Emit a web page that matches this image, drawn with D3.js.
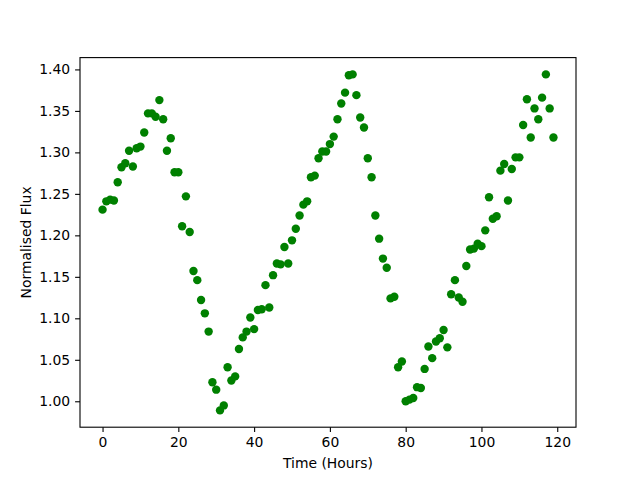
<!DOCTYPE html>
<html><head><meta charset="utf-8">
<script src="https://cdn.jsdelivr.net/npm/d3@7"></script>
<style>body{margin:0;background:#fff}svg{display:block}text{font-family:"DejaVu Sans",sans-serif}</style>
</head><body>
<script>
const hours = d3.range(0, 120);
const flux = [
1.231,1.241,1.243,1.242,1.264,1.282,1.287,1.302,1.283,1.305,
1.307,1.324,1.347,1.347,1.343,1.363,1.340,1.302,1.317,1.276,
1.276,1.211,1.247,1.204,1.157,1.146,1.122,1.106,1.084,1.023,
1.014,0.989,0.995,1.041,1.025,1.030,1.063,1.077,1.084,1.101,
1.087,1.110,1.111,1.140,1.113,1.152,1.166,1.165,1.186,1.166,
1.194,1.208,1.224,1.237,1.241,1.270,1.272,1.293,1.301,1.301,
1.310,1.319,1.340,1.359,1.372,1.393,1.394,1.369,1.342,1.330,
1.293,1.270,1.224,1.196,1.172,1.161,1.124,1.126,1.041,1.048,
1.000,1.002,1.004,1.017,1.016,1.039,1.066,1.052,1.072,1.076,
1.086,1.065,1.129,1.146,1.125,1.120,1.163,1.183,1.184,1.190,
1.187,1.206,1.246,1.220,1.223,1.278,1.286,1.242,1.280,1.294,
1.294,1.333,1.364,1.318,1.353,1.340,1.366,1.394,1.353,1.318];
const xTicks = [0,20,40,60,80,100,120];
const yTicks = [1.00,1.05,1.10,1.15,1.20,1.25,1.30,1.35,1.40];
const xLabel = "Time (Hours)", yLabel = "Normalised Flux";

const W=640,H=480, L=80,R=576,T=57.6,B=427.2;
const svg = d3.select("body").append("svg").attr("width",W).attr("height",H);
const xmin=d3.min(hours), xmax=d3.max(hours), xm=(xmax-xmin)*0.05;
const ymin=d3.min(flux), ymax=d3.max(flux), ym=(ymax-ymin)*0.05;
const x = d3.scaleLinear().domain([xmin-xm,xmax+xm]).range([L,R]);
const y = d3.scaleLinear().domain([ymin-ym,ymax+ym]).range([B,T]);

svg.append("g").selectAll("circle").data(hours).join("circle")
  .attr("cx",(d)=>x(d)).attr("cy",(d,i)=>y(flux[i])).attr("r",4.2).attr("fill","#008000");

const xa = svg.append("g").attr("transform",`translate(0,${B})`)
  .call(d3.axisBottom(x).tickValues(xTicks).tickSize(4.9).tickPadding(4.9).tickFormat(d3.format("d")));
const ya = svg.append("g").attr("transform",`translate(${L},0)`)
  .call(d3.axisLeft(y).tickValues(yTicks).tickSize(4.9).tickPadding(4.9).tickFormat(d3.format(".2f")));
[xa,ya].forEach(a=>{a.select(".domain").remove();a.selectAll("line").attr("stroke","#000").attr("stroke-width",1.1);
  a.selectAll("text").attr("font-size","13.9px").attr("font-family","DejaVu Sans").attr("fill","#000");});
svg.append("rect").attr("x",L).attr("y",T).attr("width",R-L).attr("height",B-T)
  .attr("fill","none").attr("stroke","#000").attr("stroke-width",1.1);
svg.append("text").attr("x",(L+R)/2).attr("y",468).attr("text-anchor","middle")
  .attr("font-size","13.9px").text(xLabel);
svg.append("text").attr("transform",`translate(31,${(T+B)/2}) rotate(-90)`).attr("text-anchor","middle")
  .attr("font-size","13.9px").text(yLabel);
</script>
</body></html>
